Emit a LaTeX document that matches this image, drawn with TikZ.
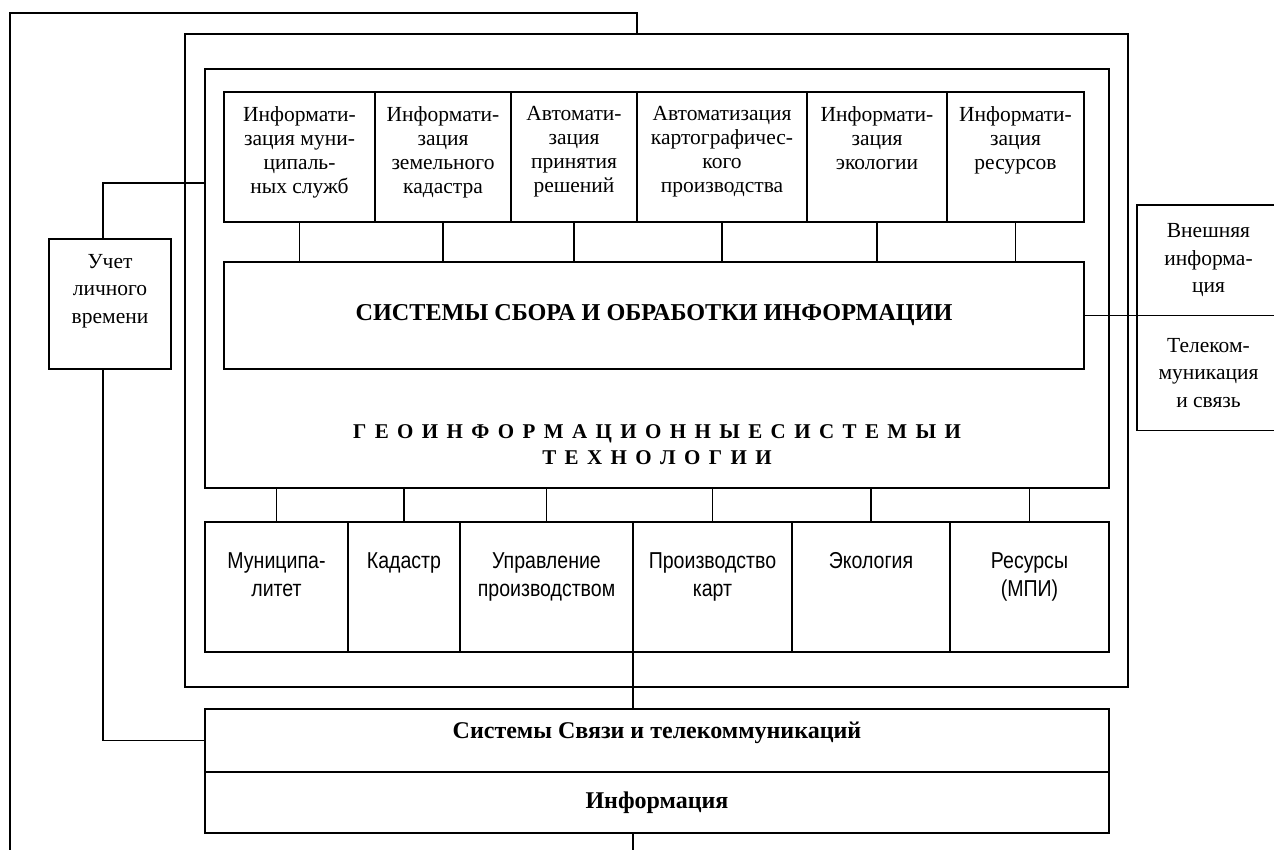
\documentclass[tikz,border=0pt]{standalone}
\usepackage{fontspec}
\setmainfont{Liberation Serif}
\newfontfamily\narrowsf[FakeStretch=0.85]{Liberation Sans}
\newfontfamily\geofont[WordSpace=1.6]{Liberation Serif}
\usetikzlibrary{positioning}
\tikzset{
  frame/.style={draw, line width=1.6pt, inner sep=0pt, outer sep=0pt},
  topbox/.style={frame, minimum height=130pt},
  botbox/.style={frame, minimum height=130pt},
  toptxt/.style={anchor=north, align=center, inner sep=0pt, font=\fontsize{21.5}{24.2}\selectfont},
  bottxt/.style={anchor=north, align=center, inner sep=0pt, font=\narrowsf\fontsize{23}{28}\selectfont},
  sidebox/.style={frame, align=center, font=\fontsize{21.5}{27.5}\selectfont},
  link/.style={line width=1.6pt},
}
\begin{document}
\begin{tikzpicture}[x=1pt, y=-1pt, node distance=0pt]
  \useasboundingbox (0,0) rectangle (1274,850);
  % frames
  \node[frame, minimum width=943pt, minimum height=653pt, anchor=north west] (gis) at (185,34) {};
  \node[frame, minimum width=904pt, minimum height=419pt, anchor=north west] (geo) at (205,69) {};
  \node[frame, minimum width=860pt, minimum height=107pt, anchor=north west,
        font=\bfseries\fontsize{24.2}{28}\selectfont] (sys) at (224,262) {СИСТЕМЫ СБОРА И ОБРАБОТКИ ИНФОРМАЦИИ};
  \node[align=center, inner sep=0pt, font=\geofont\bfseries\fontsize{21}{26}\selectfont]
        (geotxt) at (657,445) {Г Е О И Н Ф О Р М А Ц И О Н Н Ы Е С И С Т Е М Ы И\\Т Е Х Н О Л О Г И И};
  % top row
  \node[topbox, minimum width=151pt, anchor=north west] (t1) at (224,92) {};
  \node[topbox, minimum width=136pt, right=of t1] (t2) {};
  \node[topbox, minimum width=126pt, right=of t2] (t3) {};
  \node[topbox, minimum width=170pt, right=of t3] (t4) {};
  \node[topbox, minimum width=140pt, right=of t4] (t5) {};
  \node[topbox, minimum width=137pt, right=of t5] (t6) {};
  \node[toptxt] (t1txt) at ([yshift=-14pt]t1.north) {Информати-\\зация муни-\\ципаль-\\ных служб};
  \node[toptxt] (t2txt) at ([yshift=-14pt]t2.north) {Информати-\\зация\\земельного\\кадастра};
  \node[toptxt] (t3txt) at ([yshift=-14pt]t3.north) {Автомати-\\зация\\принятия\\решений};
  \node[toptxt] (t4txt) at ([yshift=-14pt]t4.north) {Автоматизация\\картографичес-\\кого\\производства};
  \node[toptxt] (t5txt) at ([yshift=-14pt]t5.north) {Информати-\\зация\\экологии};
  \node[toptxt] (t6txt) at ([yshift=-14pt]t6.north) {Информати-\\зация\\ресурсов};
  % bottom row
  \node[botbox, minimum width=143pt, anchor=north west] (b1) at (205,522) {};
  \node[botbox, minimum width=112pt, right=of b1] (b2) {};
  \node[botbox, minimum width=173pt, right=of b2] (b3) {};
  \node[botbox, minimum width=159pt, right=of b3] (b4) {};
  \node[botbox, minimum width=158pt, right=of b4] (b5) {};
  \node[botbox, minimum width=159pt, right=of b5] (b6) {};
  \node[bottxt] (b1txt) at ([yshift=-30pt]b1.north) {Муниципа-\\литет};
  \node[bottxt] (b2txt) at ([yshift=-30pt]b2.north) {Кадастр};
  \node[bottxt] (b3txt) at ([yshift=-30pt]b3.north) {Управление\\производством};
  \node[bottxt] (b4txt) at ([yshift=-30pt]b4.north) {Производство\\карт};
  \node[bottxt] (b5txt) at ([yshift=-30pt]b5.north) {Экология};
  \node[bottxt] (b6txt) at ([yshift=-30pt]b6.north) {Ресурсы\\(МПИ)};
  % lower strips
  \node[frame, minimum width=904pt, minimum height=63pt, anchor=north west] (svz) at (205,709) {};
  \node[frame, minimum width=904pt, minimum height=61pt, below=of svz,
        font=\bfseries\fontsize{24}{28}\selectfont] (inf) {Информация};
  \node[inner sep=0pt, font=\bfseries\fontsize{24}{28}\selectfont] (svztxt) at ([yshift=-24pt]svz.north) {Системы Связи и телекоммуникаций};
  % side boxes
  \node[frame, minimum width=122pt, minimum height=130pt, anchor=north west] (uch) at (49,239) {};
  \node[toptxt, font=\fontsize{21.5}{27.5}\selectfont] (uchtxt) at ([yshift=-15pt]uch.north) {Учет\\личного\\времени};
  \node[sidebox, minimum width=143pt, minimum height=110.5pt, anchor=north west] (ext) at (1137,205) {Внешняя\\информа-\\ция};
  \node[sidebox, minimum width=143pt, minimum height=115pt, below=of ext] (tel) {Телеком-\\муникация\\и связь};
  % connectors
  \coordinate (loop-top) at (10,13);
  \coordinate (loop-end) at (10,850);
  \coordinate (inf-end) at (633,850);
  \foreach \n in {t1,t2,t3,t4,t5,t6}
    \draw[link] (\n.south) -- (\n.south |- sys.north);
  \foreach \n in {b1,b2,b3,b4,b5,b6}
    \draw[link] (\n.north) -- (\n.north |- geo.south);
  \draw[link] (t4.north west |- gis.north) |- (loop-top) -- (loop-end);
  \draw[link] ([xshift=-7pt]uch.north) |- ([yshift=-114pt]geo.north west);
  \draw[link] ([xshift=-7pt]uch.south) |- (svz.west);
  \draw[link] (sys.east) -- (sys.east -| ext.west);
  \draw[link] (b4.south west) -- (b4.south west |- svz.north);
  \draw[link] (inf.south -| b4.south west) -- (inf-end);
\end{tikzpicture}
\end{document}
